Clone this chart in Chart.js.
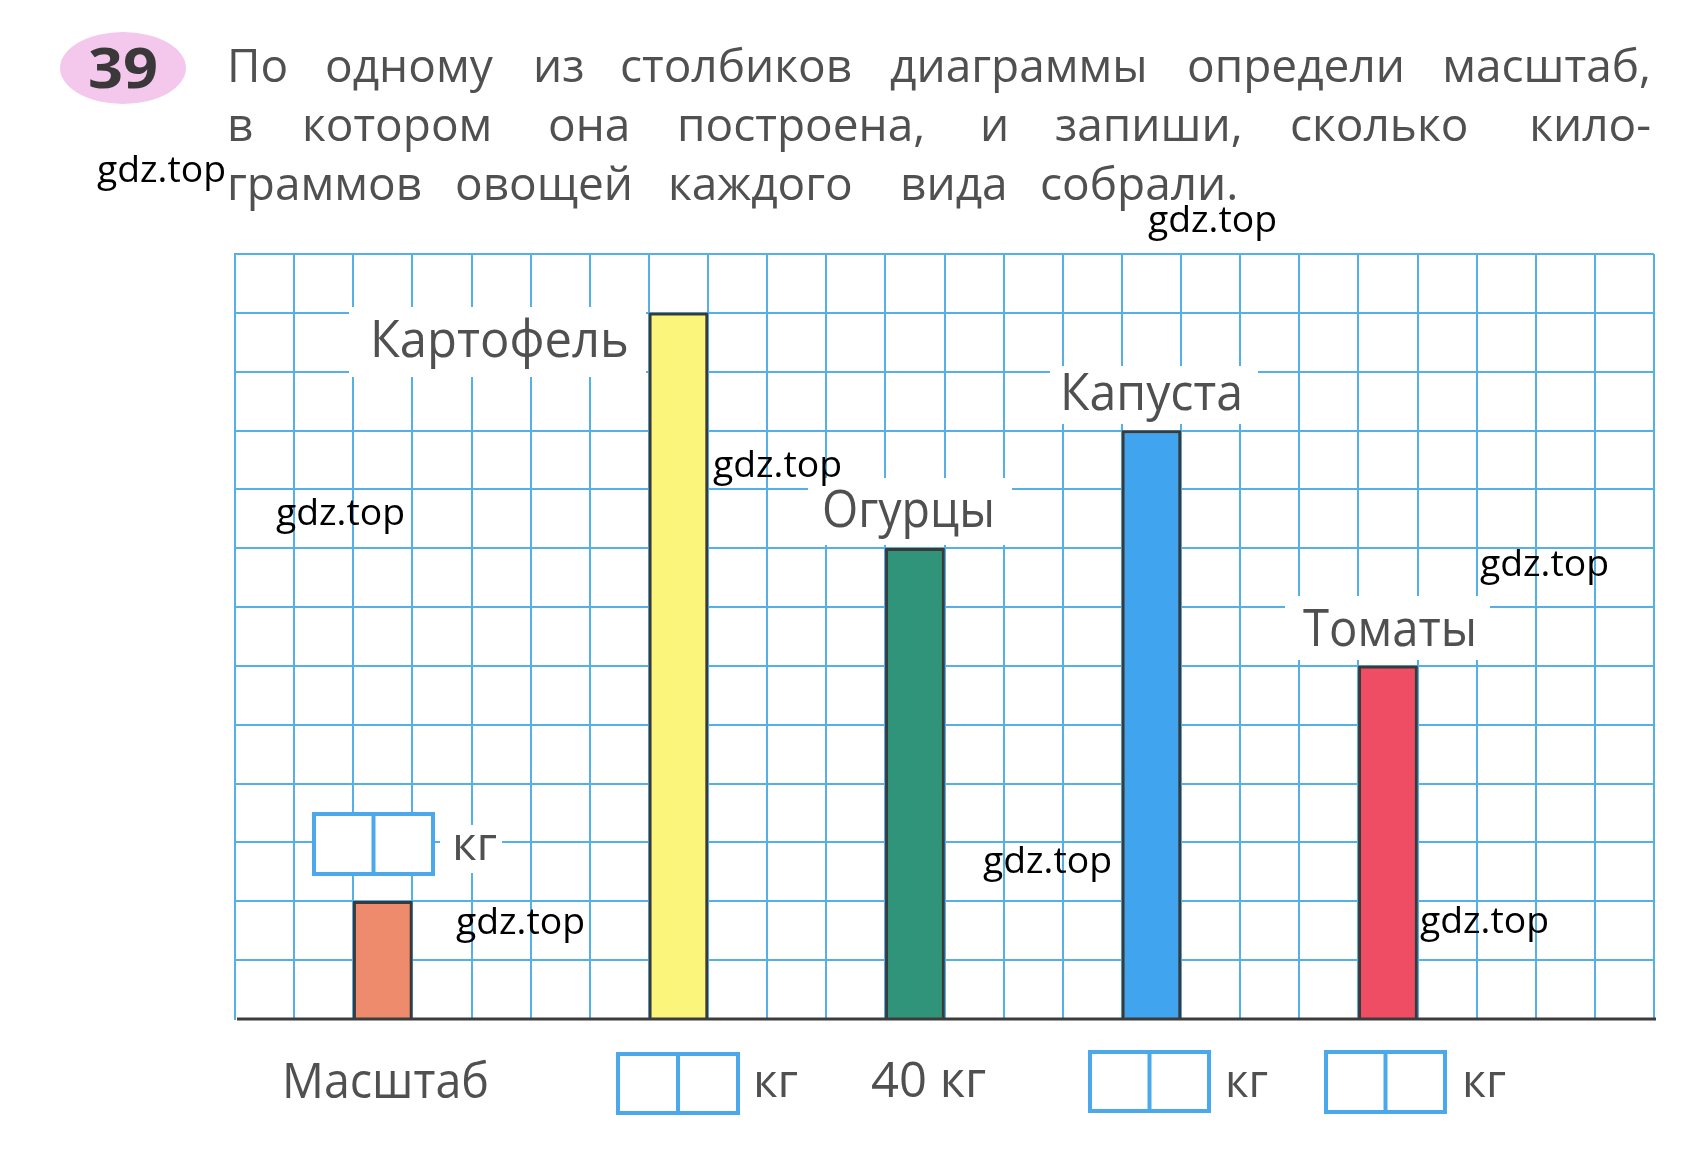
<!DOCTYPE html>
<html><head><meta charset="utf-8">
<script src="https://cdn.jsdelivr.net/npm/chart.js@4/dist/chart.umd.min.js"></script>
<style>html,body{margin:0;padding:0;background:#fff}#wrap{width:1695px;height:1155px;position:relative}canvas{display:block}</style>
</head><body><div id="wrap"><canvas id="c" width="1695" height="1155"></canvas></div>
<script>
// ---- data ----
const categories = ['Масштаб', 'Картофель', 'Огурцы', 'Капуста', 'Томаты'];
const valuesKg = [10, 60, 40, 50, 30];          // 1 cell = 5 kg
const yMin = 0, yMax = 65, yStep = 5;           // 13 rows of the grid
const gridColumns = 24;
const answerTexts = ['', '', '40 кг', '', ''];   // printed answers under bars
const unitText = 'кг';
const titleLines = [
  ['По', 'одному', 'из', 'столбиков', 'диаграммы', 'определи', 'масштаб,'],
  ['в', 'котором', 'она', 'построена,', 'и', 'запиши,', 'сколько', 'кило-'],
  ['граммов', 'овощей', 'каждого', 'вида', 'собрали.']
];
const taskNumber = '39';
const watermark = 'gdz.top';

// ---- layout / style (not data) ----
const slotIndex = [2, 7, 11, 15, 19];
const barColors = ['#ef8b6d', '#fcf57c', '#2f9479', '#40a4ee', '#ef4d64'];
const GRID = '#55b0e7';
const BOXC = '#4ba8ea';
const TXT = '#505050';
const FONT = '"Open Sans", "Noto Sans", sans-serif';
const titleX = [
  [227, 325, 533, 620, 890, 1187, 1440],
  [227, 302, 548, 677, 980, 1055, 1290, 1523],
  [227, 455, 668, 900, 1040]
];
const titleBase = [82, 141, 200];
const labelPos = [null,
  {x: 370, y: 357, w: 259, bg: [349, 307, 646, 377]},
  {x: 822, y: 527, w: 173, bg: [808, 478, 1012, 545]},
  {x: 1060, y: 410, w: 183, bg: [1050, 366, 1258, 424]},
  {x: 1303, y: 646, w: 174, bg: [1285, 596, 1490, 660]}
];
const wmPos = [[97,182],[1148,232],[713,477],[276,525],[1480,576],[983,873],[456,934],[1420,933]];

const labels = Array.from({length: gridColumns}, () => '');
const data = Array.from({length: gridColumns}, () => null);
const colors = Array.from({length: gridColumns}, () => 'rgba(0,0,0,0)');
slotIndex.forEach((s, i) => { labels[s] = categories[i]; data[s] = valuesKg[i]; colors[s] = barColors[i]; });

function txt(ctx, s, x, y, size, opts = {}) {
  ctx.save();
  ctx.font = (opts.weight || '400') + ' ' + size + 'px ' + FONT;
  ctx.fillStyle = opts.color || TXT;
  ctx.textBaseline = 'alphabetic';
  ctx.textAlign = 'left';
  const m = ctx.measureText(s).width;
  ctx.translate(x, y);
  if (opts.w) ctx.scale(opts.w / m, 1);
  ctx.fillText(s, 0, 0);
  ctx.restore();
}
function box(ctx, x1, y1, x2, y2) {
  ctx.save();
  ctx.fillStyle = '#fff';
  ctx.fillRect(x1, y1, x2 - x1, y2 - y1);
  ctx.strokeStyle = BOXC; ctx.lineWidth = 4;
  ctx.strokeRect(x1, y1, x2 - x1, y2 - y1);
  const mx = (x1 + x2) / 2;
  ctx.beginPath(); ctx.moveTo(mx, y1); ctx.lineTo(mx, y2); ctx.stroke();
  ctx.restore();
}

const pagePlugin = {
  id: 'page',
  beforeDatasetsDraw(chart) {
    const ctx = chart.ctx;
    ctx.save();
    ctx.fillStyle = '#fff';
    labelPos.forEach(p => { if (p) ctx.fillRect(p.bg[0], p.bg[1], p.bg[2] - p.bg[0], p.bg[3] - p.bg[1]); });
    ctx.fillRect(440, 825, 62, 48);
    ctx.restore();
  },
  afterDatasetsDraw(chart) {
    const ctx = chart.ctx;
    const ca = chart.chartArea;
    const y0 = chart.scales.y.getPixelForValue(0);
    ctx.save();
    ctx.strokeStyle = '#3c3c3c'; ctx.lineWidth = 3;
    ctx.beginPath(); ctx.moveTo(ca.left + 2, y0); ctx.lineTo(ca.right + 2, y0); ctx.stroke();
    ctx.restore();

    // task number
    ctx.save();
    ctx.fillStyle = '#f3c8ec';
    ctx.beginPath(); ctx.ellipse(123, 68, 63, 36, 0, 0, Math.PI * 2); ctx.fill();
    ctx.restore();
    txt(ctx, taskNumber, 88, 88, 56, {weight: '700', color: '#3b3839', w: 70});

    // title
    titleLines.forEach((words, li) => {
      words.forEach((wd, wi) => {
        let x = titleX[li][wi];
        if (wi === words.length - 1 && li < 2) {
          ctx.save(); ctx.font = '400 46px ' + FONT;
          x = 1651 - ctx.measureText(wd).width; ctx.restore();
        }
        txt(ctx, wd, x, titleBase[li], 46);
      });
    });

    // category labels
    categories.forEach((c, i) => { const p = labelPos[i]; if (p) txt(ctx, c, p.x, p.y, 52, {w: p.w}); });

    // scale box inside grid
    box(ctx, 314, 814, 433, 874);
    txt(ctx, unitText, 452, 860, 46, {w: 45});

    // bottom row
    txt(ctx, categories[0], 282, 1098, 50, {w: 207});
    box(ctx, 618, 1054, 738, 1113);
    txt(ctx, unitText, 753, 1097, 46, {w: 45});
    txt(ctx, answerTexts[2], 871, 1097, 50, {w: 115});
    box(ctx, 1090, 1052, 1209, 1111);
    txt(ctx, unitText, 1225, 1097, 46, {w: 43});
    box(ctx, 1326, 1052, 1445, 1112);
    txt(ctx, unitText, 1462, 1097, 46, {w: 44});

    // watermarks
    wmPos.forEach(p => txt(ctx, watermark, p[0], p[1], 36, {color: '#000', w: 129}));
  }
};

function make() {
  new Chart(document.getElementById('c'), {
    type: 'bar',
    data: { labels, datasets: [{ data, backgroundColor: colors, borderColor: '#3a3a3a',
      borderWidth: {top: 3, left: 3, right: 3, bottom: 0}, borderSkipped: false,
      barPercentage: 1, categoryPercentage: 1 }] },
    options: {
      responsive: false, animation: false,
      layout: { padding: { left: 235, top: 254, right: 41, bottom: 136 } },
      plugins: { legend: { display: false }, tooltip: { enabled: false } },
      scales: {
        x: { offset: true, ticks: { display: false },
             grid: { offset: true, color: GRID, lineWidth: 2, drawTicks: false },
             border: { display: false } },
        y: { min: yMin, max: yMax, ticks: { display: false, stepSize: yStep },
             grid: { color: (c) => (c.tick && c.tick.value === 0) ? 'rgba(0,0,0,0)' : GRID, lineWidth: 2, drawTicks: false },
             border: { display: true, color: GRID, width: 2 } }
      }
    },
    plugins: [pagePlugin]
  });
}
Promise.all([
  document.fonts.load('46px "Open Sans"', 'Пб'),
  document.fonts.load('700 56px "Open Sans"', '39')
]).catch(() => {}).then(make);
</script></body></html>
